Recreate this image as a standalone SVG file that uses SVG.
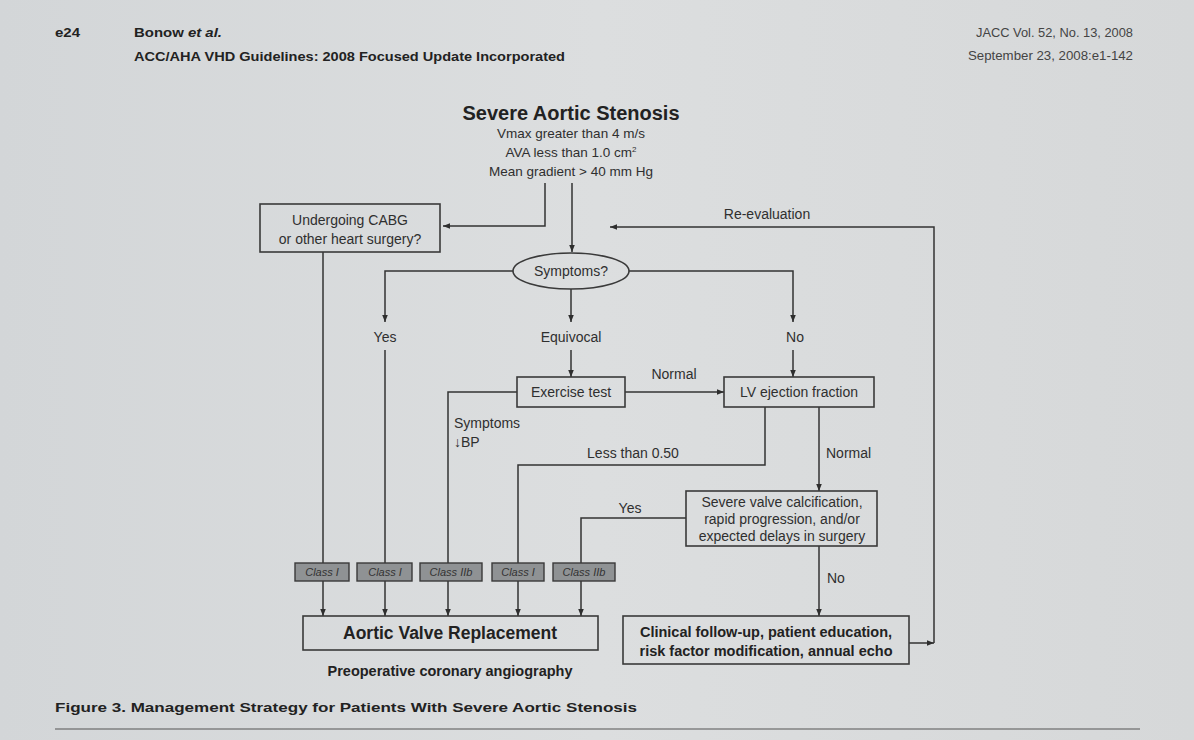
<svg xmlns="http://www.w3.org/2000/svg" width="1194" height="740" viewBox="0 0 1194 740">
  <defs>
    <marker id="arr" viewBox="0 0 10 10" refX="10" refY="5" markerWidth="7" markerHeight="7" markerUnits="userSpaceOnUse" orient="auto">
      <path d="M0,1 L10,5 L0,9 z" fill="#2e2e2e"/>
    </marker>
    <linearGradient id="bg" x1="0" y1="0" x2="1" y2="0">
      <stop offset="0" stop-color="#d3d6d8"/>
      <stop offset="0.5" stop-color="#dcdedf"/>
      <stop offset="1" stop-color="#d6d8d9"/>
    </linearGradient>
  </defs>
  <style>
    text { font-family: "Liberation Sans", Arial, sans-serif; fill: #2f2f2f; }
    .hdr { font-weight: bold; font-size: 13px; fill: #222; }
    .hdr2 { font-size: 12px; fill: #444; }
    .t { font-size: 14px; text-anchor: middle; }
    .s { font-size: 13.5px; text-anchor: middle; }
    .l { font-size: 14px; }
    .b { font-weight: bold; text-anchor: middle; fill: #222; }
    .box { fill: none; stroke: #3a3a3a; stroke-width: 1.6; }
    .cls { fill: #8f9294; stroke: #3a3a3a; stroke-width: 1.4; }
    .clt { font-size: 11px; font-style: italic; text-anchor: middle; fill: #333; }
    .c { fill: none; stroke: #333; stroke-width: 1.5; }
  </style>
  <rect width="1194" height="740" fill="url(#bg)"/>

  <g id="header">
    <text class="hdr" x="55" y="37" textLength="25" lengthAdjust="spacingAndGlyphs">e24</text>
    <text class="hdr" x="134" y="37" textLength="88" lengthAdjust="spacingAndGlyphs">Bonow <tspan font-style="italic">et al.</tspan></text>
    <text class="hdr" x="134" y="61" textLength="431" lengthAdjust="spacingAndGlyphs">ACC/AHA VHD Guidelines: 2008 Focused Update Incorporated</text>
    <text class="hdr2" x="976" y="37" textLength="157" lengthAdjust="spacingAndGlyphs">JACC Vol. 52, No. 13, 2008</text>
    <text class="hdr2" x="968" y="60" textLength="165" lengthAdjust="spacingAndGlyphs">September 23, 2008:e1-142</text>
  </g>

  <g id="connectors">
    <path class="c" d="M545,183 V226 H443" marker-end="url(#arr)"/>
    <path class="c" d="M572,183 V252" marker-end="url(#arr)"/>
    <path class="c" d="M513,271 H385 V322" marker-end="url(#arr)"/>
    <path class="c" d="M571,289 V322" marker-end="url(#arr)"/>
    <path class="c" d="M629,271 H793 V322" marker-end="url(#arr)"/>
    <path class="c" d="M571,350 V377" marker-end="url(#arr)"/>
    <path class="c" d="M793,350 V377" marker-end="url(#arr)"/>
    <path class="c" d="M625,392 H724" marker-end="url(#arr)"/>
    <path class="c" d="M517,392 H448 V616" marker-end="url(#arr)"/>
    <path class="c" d="M323,252 V616" marker-end="url(#arr)"/>
    <path class="c" d="M385,350 V616" marker-end="url(#arr)"/>
    <path class="c" d="M765,407 V465 H518 V616" marker-end="url(#arr)"/>
    <path class="c" d="M819,407 V491" marker-end="url(#arr)"/>
    <path class="c" d="M686,518 H581 V616" marker-end="url(#arr)"/>
    <path class="c" d="M819,546 V616" marker-end="url(#arr)"/>
    <path class="c" d="M909,643 H934" marker-end="url(#arr)"/>
    <path class="c" d="M934,643 V227 H610" marker-end="url(#arr)"/>
    <text class="t" x="767" y="219">Re-evaluation</text>
    <text class="t" x="385" y="342">Yes</text>
    <text class="t" x="571" y="342">Equivocal</text>
    <text class="t" x="795" y="342">No</text>
    <text class="t" x="674" y="379">Normal</text>
    <text class="l" x="454" y="428">Symptoms</text>
    <text class="l" x="454" y="447">↓BP</text>
    <text class="t" x="633" y="458">Less than 0.50</text>
    <text class="l" x="826" y="458">Normal</text>
    <text class="t" x="630" y="513">Yes</text>
    <text class="l" x="827" y="583">No</text>
  </g>

  <g id="title">
    <text class="b" x="571" y="120" font-size="20">Severe Aortic Stenosis</text>
    <text class="s" x="571" y="138">Vmax greater than 4 m/s</text>
    <text class="s" x="571" y="157">AVA less than 1.0 cm<tspan dy="-5" font-size="8">2</tspan></text>
    <text class="s" x="571" y="176">Mean gradient &gt; 40 mm Hg</text>
  </g>

  <g id="cabg">
    <rect class="box" x="260" y="204" width="180" height="48"/>
    <text class="t" x="350" y="225">Undergoing CABG</text>
    <text class="t" x="350" y="244">or other heart surgery?</text>
  </g>

  <g id="symptoms">
    <ellipse class="box" cx="571" cy="271" rx="58" ry="18"/>
    <text class="t" x="571" y="276">Symptoms?</text>
  </g>

  <g id="exercise">
    <rect class="box" x="517" y="377" width="108" height="30"/>
    <text class="t" x="571" y="397">Exercise test</text>
  </g>

  <g id="lvef">
    <rect class="box" x="724" y="377" width="150" height="30"/>
    <text class="t" x="799" y="397">LV ejection fraction</text>
  </g>

  <g id="calcification">
    <rect class="box" x="686" y="491" width="191" height="55"/>
    <text class="t" x="782" y="507">Severe valve calcification,</text>
    <text class="t" x="782" y="524">rapid progression, and/or</text>
    <text class="t" x="782" y="541">expected delays in surgery</text>
  </g>

  <g id="classes">
    <rect class="cls" x="295" y="563" width="54" height="18"/>
    <text class="clt" x="322" y="576">Class I</text>
    <rect class="cls" x="357" y="563" width="55" height="18"/>
    <text class="clt" x="385" y="576">Class I</text>
    <rect class="cls" x="420" y="563" width="62" height="18"/>
    <text class="clt" x="451" y="576">Class IIb</text>
    <rect class="cls" x="492" y="563" width="52" height="18"/>
    <text class="clt" x="518" y="576">Class I</text>
    <rect class="cls" x="553" y="563" width="62" height="18"/>
    <text class="clt" x="584" y="576">Class IIb</text>
  </g>

  <g id="avr">
    <rect class="box" x="303" y="616" width="295" height="34"/>
    <text class="b" x="450" y="639" font-size="17.5">Aortic Valve Replacement</text>
    <text class="b" x="450" y="676" font-size="14.5">Preoperative coronary angiography</text>
  </g>

  <g id="followup">
    <rect class="box" x="623" y="616" width="286" height="48"/>
    <text class="b" x="766" y="637" font-size="14.5">Clinical follow-up, patient education,</text>
    <text class="b" x="766" y="656" font-size="14.5">risk factor modification, annual echo</text>
  </g>

  <g id="caption">
    <text class="hdr" x="55" y="712" textLength="582" lengthAdjust="spacingAndGlyphs">Figure 3.  Management Strategy for Patients With Severe Aortic Stenosis</text>
    <line x1="55" y1="729" x2="1140" y2="729" stroke="#555" stroke-width="1.2"/>
  </g>
</svg>
